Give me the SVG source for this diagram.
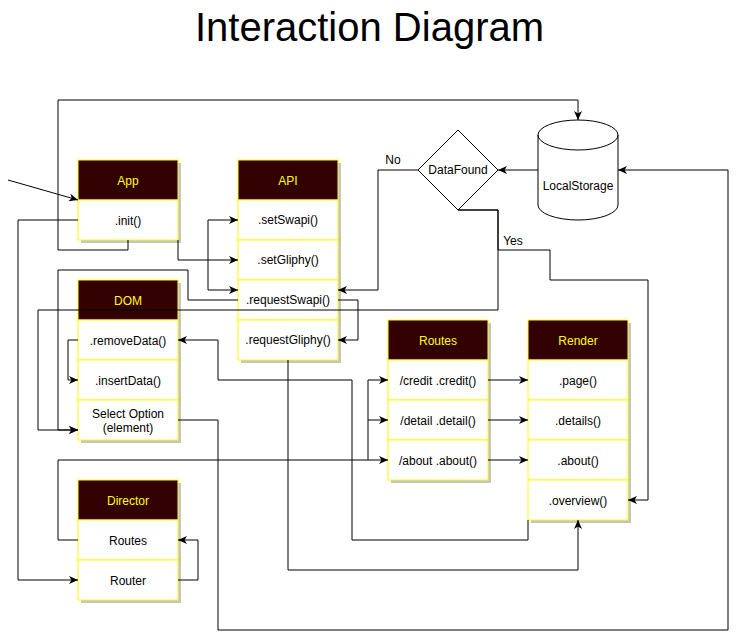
<svg xmlns="http://www.w3.org/2000/svg" width="737" height="640" viewBox="0 0 737 640">
<style>
.hdr{fill:#330000;stroke:#ffff00;stroke-width:1}
.row{fill:#ffffff;stroke:#ffff00;stroke-width:1}
.sh{fill:#c4c4c4}
.ht{font-family:"Liberation Sans",Arial,sans-serif;font-size:12px;fill:#ffff00;text-anchor:middle}
.t{font-family:"Liberation Sans",Arial,sans-serif;font-size:12px;fill:#000;text-anchor:middle}
.e{fill:none;stroke:#000;stroke-width:1}
.a{marker-end:url(#arr)}
</style>
<defs>
<marker id="arr" markerUnits="userSpaceOnUse" markerWidth="10" markerHeight="8" refX="9" refY="4" orient="auto-start-reverse">
<path d="M0,0 L9,4 L0,8 L2.5,4 Z" fill="#000"/>
</marker>
</defs>
<rect width="737" height="640" fill="#ffffff"/>
<text x="369.5" y="41" font-family="'Liberation Sans',Arial,sans-serif" font-size="40" text-anchor="middle" fill="#000">Interaction Diagram</text>

<g id="App">
<rect class="sh" x="81" y="163" width="100" height="80"/>
<rect class="hdr" x="78" y="160" width="100" height="40"/>
<rect class="row" x="78" y="200" width="100" height="40"/>
<text class="ht" x="128" y="185">App</text>
<text class="t" x="128" y="225">.init()</text>
</g>

<g id="API">
<rect class="sh" x="241" y="163" width="100" height="200"/>
<rect class="hdr" x="238" y="160" width="100" height="40"/>
<rect class="row" x="238" y="200" width="100" height="40"/>
<rect class="row" x="238" y="240" width="100" height="40"/>
<rect class="row" x="238" y="280" width="100" height="40"/>
<rect class="row" x="238" y="320" width="100" height="40"/>
<text class="ht" x="288" y="185">API</text>
<text class="t" x="288" y="224">.setSwapi()</text>
<text class="t" x="288" y="264">.setGliphy()</text>
<text class="t" x="288" y="304">.requestSwapi()</text>
<text class="t" x="288" y="344">.requestGliphy()</text>
</g>

<g id="DOM">
<rect class="sh" x="81" y="283" width="100" height="160"/>
<rect class="hdr" x="78" y="280" width="100" height="40"/>
<rect class="row" x="78" y="320" width="100" height="40"/>
<rect class="row" x="78" y="360" width="100" height="40"/>
<rect class="row" x="78" y="400" width="100" height="40"/>
<text class="ht" x="128" y="305">DOM</text>
<text class="t" x="128" y="345">.removeData()</text>
<text class="t" x="128" y="385">.insertData()</text>
<text class="t" x="128" y="418">Select Option</text>
<text class="t" x="128" y="432">(element)</text>
</g>

<g id="Routes">
<rect class="sh" x="391" y="323" width="100" height="160"/>
<rect class="hdr" x="388" y="320" width="100" height="40"/>
<rect class="row" x="388" y="360" width="100" height="40"/>
<rect class="row" x="388" y="400" width="100" height="40"/>
<rect class="row" x="388" y="440" width="100" height="40"/>
<text class="ht" x="438" y="345">Routes</text>
<text class="t" x="438" y="385">/credit .credit()</text>
<text class="t" x="438" y="425">/detail .detail()</text>
<text class="t" x="438" y="465">/about .about()</text>
</g>

<g id="Render">
<rect class="sh" x="531" y="323" width="100" height="200"/>
<rect class="hdr" x="528" y="320" width="100" height="40"/>
<rect class="row" x="528" y="360" width="100" height="40"/>
<rect class="row" x="528" y="400" width="100" height="40"/>
<rect class="row" x="528" y="440" width="100" height="40"/>
<rect class="row" x="528" y="480" width="100" height="40"/>
<text class="ht" x="578" y="345">Render</text>
<text class="t" x="578" y="385">.page()</text>
<text class="t" x="578" y="425">.details()</text>
<text class="t" x="578" y="465">.about()</text>
<text class="t" x="578" y="505">.overview()</text>
</g>

<g id="Director">
<rect class="sh" x="81" y="483" width="100" height="120"/>
<rect class="hdr" x="78" y="480" width="100" height="40"/>
<rect class="row" x="78" y="520" width="100" height="40"/>
<rect class="row" x="78" y="560" width="100" height="40"/>
<text class="ht" x="128" y="505">Director</text>
<text class="t" x="128" y="545">Routes</text>
<text class="t" x="128" y="585">Router</text>
</g>

<g id="DataFound">
<polygon points="458,130 498,170 458,210 418,170" fill="#ffffff" stroke="#000" stroke-width="1"/>
<text class="t" x="458" y="174">DataFound</text>
</g>

<g id="LocalStorage">
<path d="M538,135 A40,15 0 0 1 618,135 V205 A40,15 0 0 1 538,205 Z" fill="#ffffff" stroke="#000" stroke-width="1"/>
<path d="M538,135 A40,15 0 0 0 618,135" fill="none" stroke="#000" stroke-width="1"/>
<text class="t" x="578" y="190">LocalStorage</text>
</g>

<g id="connectors">
<path class="e a" d="M8,180 L78,200"/>
<path class="e a" d="M128,240 V250 H58 V100 H578 V120"/>
<path class="e a" d="M78,220 H18 V580 H78"/>
<path class="e a" d="M178,240 V260 H238"/>
<path class="e a" d="M238,220 H208 V290 H238" marker-start="url(#arr)"/>
<path class="e a" d="M418,170 H378 V290 H338"/>
<path class="e a" d="M238,300 H188 V270 H58 V430 H78"/>
<path class="e a" d="M338,300 H358 V340 H338"/>
<path class="e a" d="M458,210 H498 V250 H550 V280 H648 V500 H628"/>
<path class="e a" d="M458,210 H498 V310 H38 V430 H78"/>
<path class="e a" d="M528,520 V540 H352 V380 H218 V340 H178"/>
<path class="e a" d="M78,340 H68 V380 H78"/>
<path class="e a" d="M178,420 H218 V630 H728 V170 H618"/>
<path class="e a" d="M288,360 V570 H578 V520"/>
<path class="e a" d="M488,380 H528"/>
<path class="e a" d="M488,420 H528"/>
<path class="e a" d="M488,460 H528"/>
<path class="e a" d="M78,540 H58 V460 H388"/>
<path class="e a" d="M368,460 V380 H388"/>
<path class="e a" d="M368,420 H388"/>
<path class="e a" d="M178,580 H198 V540 H178"/>
<path class="e a" d="M538,170 H498"/>
<text class="t" x="393" y="164">No</text>
<text class="t" x="513" y="245">Yes</text>
</g>
</svg>
